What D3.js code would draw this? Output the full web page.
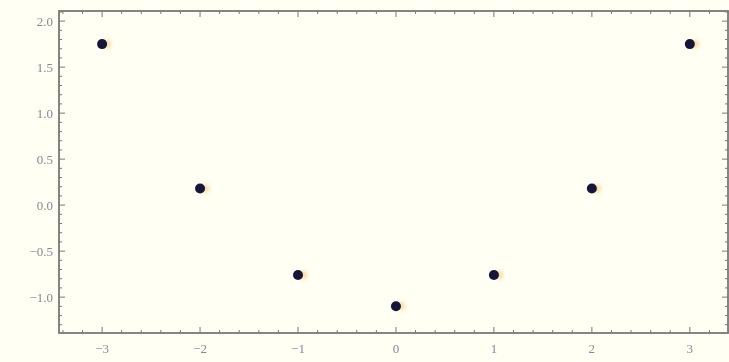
<!DOCTYPE html>
<html>
<head>
<meta charset="utf-8">
<script src="https://cdn.jsdelivr.net/npm/d3@7"></script>
<style>
  body { margin: 0; background: #fffff3; }
  svg { display: block; }
</style>
</head>
<body>
<div class="canvas"></div>
<script>
// data
const xs = [-3, -2, -1, 0, 1, 2, 3];
const ys = [1.75, 0.18, -0.76, -1.1, -0.76, 0.18, 1.75];
const xTicks = [-3, -2, -1, 0, 1, 2, 3];
const yTicks = [-1.0, -0.5, 0.0, 0.5, 1.0, 1.5, 2.0];

const dims = { width: 729, height: 362 };
const frame = { left: 59, right: 729, top: 11, bottom: 333 };

const svg = d3
  .select(".canvas")
  .append("svg")
  .attr("width", dims.width)
  .attr("height", dims.height);

// soft look like the photo
const defs = svg.append("defs");
defs.append("filter").attr("id", "soft")
  .append("feGaussianBlur").attr("stdDeviation", 0.6);
defs.append("filter").attr("id", "glow")
  .append("feGaussianBlur").attr("stdDeviation", 2);

svg.append("rect")
  .attr("width", dims.width)
  .attr("height", dims.height)
  .attr("fill", "#fffff3");

const x = d3.scaleLinear().domain([-3.44, 3.4]).range([frame.left, frame.right]);
const y = d3.scaleLinear().domain([-1.39, 2.11]).range([frame.bottom, frame.top]);

const g = svg.append("g").attr("filter", "url(#soft)");
const axisCol = "#7d7678";
const labCol = "#8f859a";

// ticks (inward, on all four sides)
const xMinor = d3.range(-3.4, 3.41, 0.2).map((d) => +d.toFixed(1));
const yMinor = d3.range(-1.3, 2.11, 0.1).map((d) => +d.toFixed(1));

const isMajorX = (d) => Math.abs(d - Math.round(d)) < 1e-6;
const isMajorY = (d) => Math.abs(d * 2 - Math.round(d * 2)) < 1e-6;

const ticks = g.append("g").attr("stroke", axisCol).attr("stroke-width", 1);

xMinor.forEach((d) => {
  const len = isMajorX(d) ? 6 : 3;
  ticks.append("line")
    .attr("x1", x(d)).attr("x2", x(d))
    .attr("y1", frame.bottom).attr("y2", frame.bottom - len);
  ticks.append("line")
    .attr("x1", x(d)).attr("x2", x(d))
    .attr("y1", frame.top).attr("y2", frame.top + len);
});

yMinor.forEach((d) => {
  const len = isMajorY(d) ? 6 : 3;
  ticks.append("line")
    .attr("y1", y(d)).attr("y2", y(d))
    .attr("x1", frame.left).attr("x2", frame.left + len);
  ticks.append("line")
    .attr("y1", y(d)).attr("y2", y(d))
    .attr("x1", frame.right - 1).attr("x2", frame.right - 1 - len);
});

// frame
g.append("rect")
  .attr("x", frame.left)
  .attr("y", frame.top)
  .attr("width", frame.right - frame.left - 1)
  .attr("height", frame.bottom - frame.top)
  .attr("fill", "none")
  .attr("stroke", axisCol)
  .attr("stroke-width", 1.8);

// tick labels
const fmt = (d) => d3.format(".1f")(d).replace("-", "\u2212");

g.append("g")
  .selectAll("text")
  .data(yTicks)
  .enter()
  .append("text")
  .attr("x", frame.left - 6)
  .attr("y", (d) => y(d))
  .attr("dy", "0.35em")
  .attr("text-anchor", "end")
  .attr("font-family", "Liberation Serif, serif")
  .attr("font-size", 13)
  .attr("fill", labCol)
  .text(fmt);

g.append("g")
  .selectAll("text")
  .data(xTicks)
  .enter()
  .append("text")
  .attr("x", (d) => x(d))
  .attr("y", frame.bottom + 20)
  .attr("text-anchor", "middle")
  .attr("font-family", "Liberation Serif, serif")
  .attr("font-size", 13)
  .attr("fill", labCol)
  .text((d) => String(d).replace("-", "\u2212"));

// points
const pts = xs.map((d, i) => ({ x: d, y: ys[i] }));

svg.append("g")
  .attr("filter", "url(#glow)")
  .selectAll("circle")
  .data(pts)
  .enter()
  .append("circle")
  .attr("cx", (d) => x(d.x) + 5)
  .attr("cy", (d) => y(d.y))
  .attr("r", 4)
  .attr("fill", "#f2c060")
  .attr("opacity", 0.6);

svg.append("g")
  .attr("filter", "url(#soft)")
  .selectAll("circle")
  .data(pts)
  .enter()
  .append("circle")
  .attr("cx", (d) => x(d.x))
  .attr("cy", (d) => y(d.y))
  .attr("r", 5)
  .attr("fill", "#15153a");
</script>
</body>
</html>
